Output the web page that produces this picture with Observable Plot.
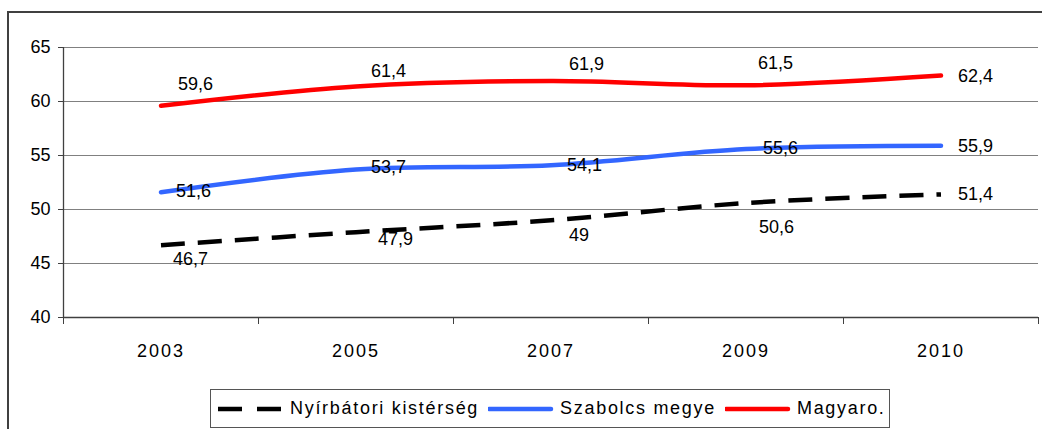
<!DOCTYPE html>
<html>
<head>
<meta charset="utf-8">
<script src="https://cdn.jsdelivr.net/npm/d3@7"></script>
<script src="https://cdn.jsdelivr.net/npm/@observablehq/plot@0.6"></script>
<style>
html, body { margin: 0; padding: 0; background: #fff; overflow: hidden; }
#wrap { position: relative; width: 1042px; height: 429px; overflow: hidden; font-family: "Liberation Sans", Arial, sans-serif; }
#frame { position: absolute; left: 7px; top: 11px; width: 1100px; height: 500px; border: 2px solid #404040; box-sizing: border-box; }
#chart { position: absolute; left: 0; top: 0; }
#legend { position: absolute; left: 210px; top: 389px; width: 680px; height: 39px; border: 1px solid #555; box-sizing: border-box; background: #fff;
  display: flex; align-items: center; padding-left: 7px; font-size: 18px; letter-spacing: 1.7px; color: #000; white-space: nowrap; }
#legend .item { display: flex; align-items: center; }
#legend svg { margin-right: 6px; }
#legend .lab { margin-right: 9px; }
</style>
</head>
<body>
<div id="wrap">
  <div id="frame"></div>
  <div id="chart"></div>
  <div id="legend"></div>
</div>
<script>
// ---- data ----
const years = ["2003", "2005", "2007", "2009", "2010"];
const nyirbatori = [46.7, 47.9, 49, 50.6, 51.4];
const szabolcs = [51.6, 53.7, 54.1, 55.6, 55.9];
const magyaro = [59.6, 61.4, 61.9, 61.5, 62.4];
const seriesNames = ["Nyírbátori kistérség", "Szabolcs megye", "Magyaro."];
const yTicks = [40, 45, 50, 55, 60, 65];

// ---- styling / layout ----
const seriesColors = ["#000000", "#3366FF", "#FF0000"];
const seriesDash = ["24,13", null, null];
const labelDx = [[12, 22, 18, 13, 17], [15, 15, 16, 17, 17], [17, 15, 18, 12, 17]];
const labelDy = [[14.5, 7, 15, 24, 0], [-1, -2, 0, -1, 0], [-22, -15, -17, -22, 1]];

const seriesValues = [nyirbatori, szabolcs, magyaro];
const rows = [];
seriesValues.forEach((vals, s) => vals.forEach((v, i) => rows.push({s, series: seriesNames[s], i, year: years[i], value: v})));

const fmt = v => String(v).replace(".", ",");
const boundaries = d3.range(years.length + 1).map(i => i - 0.5);

const marks = [
  Plot.ruleY(yTicks, {stroke: "#808080", strokeWidth: 1}),
  Plot.axisY({ticks: yTicks, tickSize: 5, tickPadding: 8, stroke: "#404040", fill: "#000", label: null, fontSize: 18}),
  Plot.axisX({ticks: boundaries, tickSize: 7, tickFormat: () => "", stroke: "#404040", label: null}),
  Plot.axisX({ticks: d3.range(years.length), tickSize: 0, tickPadding: 27, tickFormat: i => years[i], fill: "#000", label: null, fontSize: 18}),
  Plot.ruleX([-0.5], {stroke: "#404040", strokeWidth: 1.3}),
  Plot.ruleY([40], {stroke: "#404040", strokeWidth: 1.3})
];
seriesNames.forEach((name, s) => {
  marks.push(Plot.line(rows.filter(d => d.s === s), {
    x: "i", y: "value", stroke: seriesColors[s], strokeWidth: 4.5,
    curve: "catmull-rom", strokeDasharray: seriesDash[s] || undefined,
    strokeLinecap: seriesDash[s] ? "butt" : "round", strokeLinejoin: "round"
  }));
});
rows.forEach(d => {
  marks.push(Plot.text([d], {
    x: "i", y: "value", text: d => fmt(d.value), textAnchor: "start",
    dx: labelDx[d.s][d.i], dy: labelDy[d.s][d.i], fill: "#000", fontSize: 18
  }));
});

const chart = Plot.plot({
  width: 1042, height: 385,
  marginTop: 47, marginBottom: 68, marginLeft: 63, marginRight: 4,
  style: {fontFamily: '"Liberation Sans", Arial, sans-serif', fontSize: "18px", color: "#000", background: "transparent", overflow: "visible"},
  x: {type: "linear", domain: [-0.5, years.length - 0.5]},
  y: {domain: [40, 65]},
  marks
});
d3.select(chart).selectAll("g[aria-label='x-axis tick label'] text").attr("letter-spacing", "2px");
document.getElementById("chart").appendChild(chart);

// ---- legend ----
const legend = d3.select("#legend");
seriesNames.forEach((name, s) => {
  const item = legend.append("div").attr("class", "item");
  const svg = item.append("svg").attr("width", 66).attr("height", 10);
  svg.append("line").attr("x1", 0).attr("x2", 64).attr("y1", 5).attr("y2", 5)
    .attr("stroke", seriesColors[s]).attr("stroke-width", 4.5)
    .attr("stroke-dasharray", seriesDash[s] ? "24,15" : null)
    .attr("stroke-linecap", seriesDash[s] ? "butt" : "round")
    .attr("transform", seriesDash[s] ? null : "translate(1,0) scale(0.97,1)");
  item.append("span").attr("class", "lab").text(name);
});
</script>
</body>
</html>
